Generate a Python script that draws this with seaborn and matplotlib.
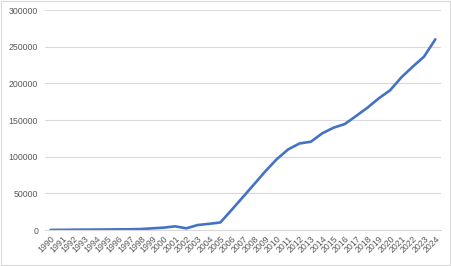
import matplotlib
matplotlib.use("Agg")
import matplotlib.pyplot as plt
import seaborn as sns
import pandas as pd
from matplotlib.patches import Rectangle

years = list(range(1990, 2025))
values = [100, 200, 400, 500, 600, 700, 900, 1000, 1300, 2300,
          3200, 5000, 2300, 6800, 8400, 10300, 27500, 45000, 62700, 80500,
          96800, 110000, 118000, 120400, 131800, 139500, 144500, 155500, 166800, 179500,
          190500, 208200, 222700, 236400, 260000]
yticks = [0, 50000, 100000, 150000, 200000, 250000, 300000]

df = pd.DataFrame({"year": years, "value": values})

sns.set_theme(style="white")
plt.rcParams['font.family'] = ['Liberation Sans', 'DejaVu Sans']

fig = plt.figure(figsize=(4.51, 2.66), dpi=100)
ax = fig.add_axes([45/451, 1-230/266, (441-45)/451, 220/266])

sns.lineplot(data=df, x="year", y="value", ax=ax, color="#4472C4", linewidth=1.9)

ax.set_xlim(years[0]-0.5, years[-1]+0.5)
ax.set_ylim(0, 300000)
ax.set_yticks(yticks)
ax.set_yticklabels([str(v) for v in yticks])
ax.set_xticks(years)
ax.set_xticklabels([str(y) for y in years], rotation=45, ha="right", rotation_mode="anchor")
ax.tick_params(axis="both", labelsize=6.3, colors="#595959", length=0)
ax.tick_params(axis="y", pad=5)
ax.tick_params(axis="x", pad=3)
ax.grid(axis="y", color="#d9d9d9", linewidth=0.8)
ax.set_axisbelow(True)
for s in ["top", "right", "left"]:
    ax.spines[s].set_visible(False)
ax.spines["bottom"].set_color("#d9d9d9")
ax.spines["bottom"].set_linewidth(0.8)
ax.set_xlabel("")
ax.set_ylabel("")

fig.patches.append(Rectangle((0.002, 0.003), 0.995, 0.994, transform=fig.transFigure,
                             fill=False, edgecolor="#d9d9d9", linewidth=0.8))

fig.savefig("out.png", dpi=100)
